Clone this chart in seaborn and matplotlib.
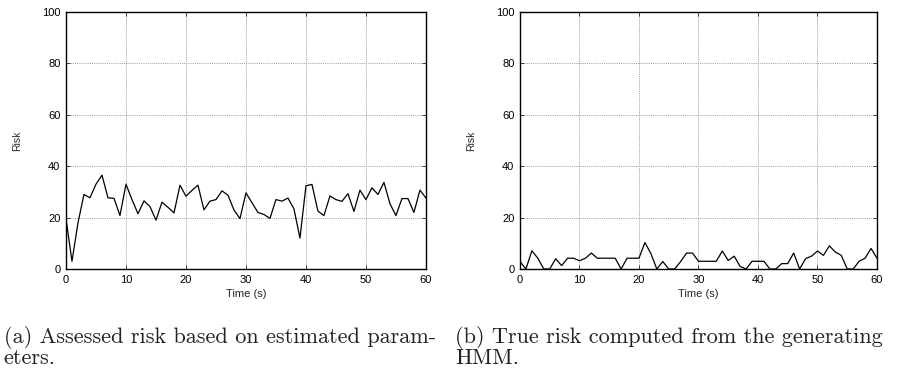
import numpy as np
import pandas as pd
import matplotlib
matplotlib.use("Agg")
import matplotlib.pyplot as plt
import seaborn as sns

# time axis, one sample per second
time_s = list(range(61))

# (a) assessed risk from estimated parameters
risk_estimated = [19.5, 3, 18, 29, 27.7, 33, 36.5, 27.7, 27.5, 20.8,
                  33, 27, 21.5, 26.5, 24.3, 19, 26, 24, 21.8, 32.6,
                  28.3, 30.6, 32.6, 23, 26.4, 27, 30.4, 28.7, 23, 19.6,
                  29.6, 25.8, 22, 21.2, 19.7, 27, 26.4, 27.6, 23.4, 12,
                  32.4, 32.9, 22.5, 20.8, 28.4, 27, 26.3, 29.3, 22.4, 30.7,
                  27, 31.6, 29, 33.7, 25.4, 20.8, 27.4, 27.4, 22, 30.7,
                  27.6]

# (b) true risk from the generating HMM
risk_true = [2.9, 0, 7.1, 4.2, 0, 0, 4, 1.3, 4.2, 4.2,
             3.2, 4.2, 6.2, 4.2, 4.2, 4.2, 4.2, 0, 4.2, 4.2,
             4.2, 10.3, 6, 0, 2.9, 0, 0, 2.9, 6.2, 6.2,
             3, 3, 3, 3, 7, 3.3, 5, 1, 0, 3,
             3, 3, 0, 0, 2.1, 2.1, 6.2, 0, 4, 5,
             7, 5.3, 9, 6.6, 5.3, 0, 0, 3, 4.2, 8,
             4.2]

# caption lines (as typeset, with the hyphenation break)
caption_a = ["(a) Assessed risk based on estimated param-", "eters."]
caption_b = ["(b) True risk computed from the generating", "HMM."]

df = pd.DataFrame({"time": time_s, "est": risk_estimated, "true": risk_true})

sns.set_theme(style="ticks")
plt.rcParams["font.family"] = ["Liberation Sans", "DejaVu Sans"]

fig = plt.figure(figsize=(8.99, 3.72), dpi=100)
ax_a = fig.add_axes([0.0734, 0.2769, 0.4004, 0.6909])
ax_b = fig.add_axes([0.5784, 0.2769, 0.3971, 0.6909])

for ax, col in [(ax_a, "est"), (ax_b, "true")]:
    sns.lineplot(data=df, x="time", y=col, ax=ax, color="black", linewidth=0.9)
    ax.set_xlim(0, 60)
    ax.set_ylim(0, 100)
    ax.set_xticks(range(0, 61, 10))
    ax.set_yticks(range(0, 101, 20))
    ax.grid(True, color="#999999", linestyle=(0, (1, 1.2)), linewidth=0.7)
    ax.tick_params(direction="in", length=3, width=0.5, labelsize=8,
                   colors="black", top=True, right=True, pad=4)
    for s in ax.spines.values():
        s.set_color("black")
        s.set_linewidth(1.0)
    ax.set_xlabel("Time (s)", fontsize=8, labelpad=3)
    ax.set_ylabel("Risk", fontsize=7.5, labelpad=14)

# captions in a Computer Modern-like serif, one text per line
for x0, lines in [(0.004, caption_a), (0.506, caption_b)]:
    for y0, line in zip([0.078, 0.0215], lines):
        fig.text(x0, y0, line, family="cmr10", fontsize=16, color="#222222",
                 ha="left", va="baseline")

fig.savefig("out.png", dpi=100)
